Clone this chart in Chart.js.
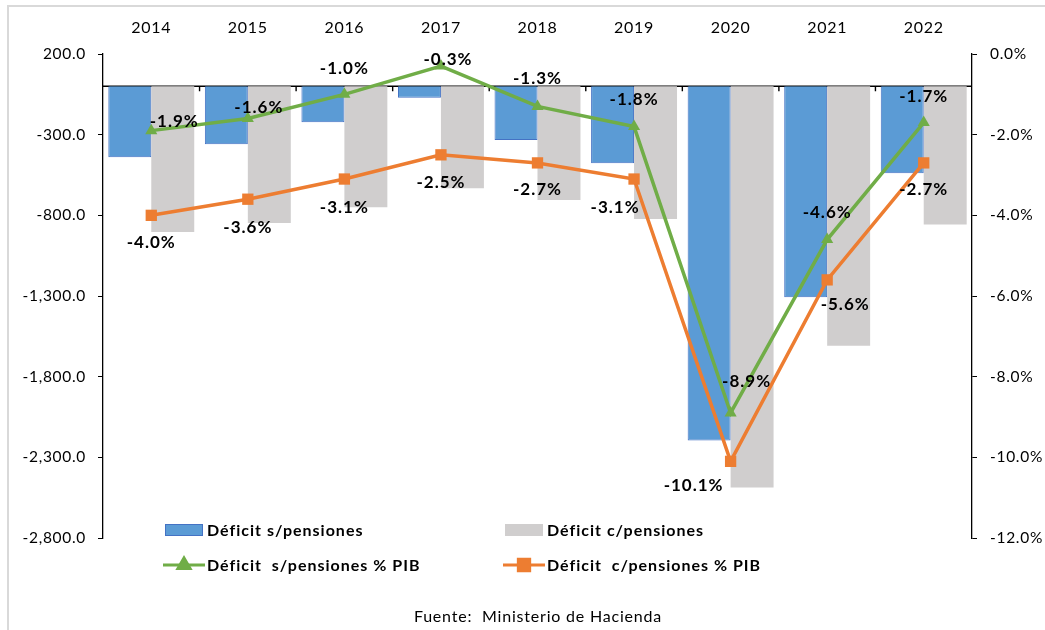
<!DOCTYPE html>
<html>
<head>
<meta charset="utf-8">
<script src="https://cdn.jsdelivr.net/npm/chart.js@4"></script>
<style>
  html, body { margin: 0; padding: 0; background: #fff; overflow: hidden; }
  #wrap { position: relative; width: 1045px; height: 630px; overflow: hidden; }
  #frame { position: absolute; left: 7px; top: 5px; width: 1100px; height: 700px; border: 2px solid #d9d9d9; box-sizing: border-box; }
  #myChart { position: absolute; left: 0; top: 0; }
</style>
</head>
<body>
<div id="wrap">
  <div id="frame"></div>
  <canvas id="myChart" width="1045" height="630"></canvas>
</div>
<script>
const years = ['2014', '2015', '2016', '2017', '2018', '2019', '2020', '2021', '2022'];
const deficitSinPensiones = [-440, -359, -223, -71, -333, -477, -2196, -1307, -539];
const deficitConPensiones = [-903, -847, -750, -632, -705, -822, -2487, -1609, -857];
const sinPensionesPib = [-1.9, -1.6, -1.0, -0.3, -1.3, -1.8, -8.9, -4.6, -1.7];
const conPensionesPib = [-4.0, -3.6, -3.1, -2.5, -2.7, -3.1, -10.1, -5.6, -2.7];

const fontFamily = 'Lato, "Open Sans", sans-serif';
Chart.defaults.font.family = fontFamily;
Chart.defaults.color = '#000';

// label offsets (px) from each point, per line series
const labelOffsets = {
    2: [[23, -9], [11, -11], [0, -26], [7, -7], [0, -28], [0, -27], [16, -31], [0, -27], [0, -26]],
    3: [[0, 27], [0, 28], [0, 28], [0, 28], [0, 27], [-19, 28], [-37, 24], [18, 25], [0, 27]]
};

const decorPlugin = {
    id: 'decor',
    beforeDraw(chart) {
        // slightly wider text like the original export
        chart.ctx.letterSpacing = '0.7px';
    },
    beforeDatasetsDraw(chart) {
        const ctx = chart.ctx;
        const x = chart.scales.x;
        const y0 = chart.scales.y.getPixelForValue(0);
        const area = chart.chartArea;
        ctx.save();
        ctx.strokeStyle = '#000';
        ctx.lineWidth = 1.4;
        ctx.beginPath();
        ctx.moveTo(area.left, y0);
        ctx.lineTo(area.right, y0);
        for (let i = 1; i < years.length; i++) {
            const bx = (x.getPixelForValue(i - 1) + x.getPixelForValue(i)) / 2;
            ctx.moveTo(bx, y0);
            ctx.lineTo(bx, y0 + 5);
        }
        ctx.stroke();
        ctx.restore();
    },
    afterDraw(chart) {
        const ctx = chart.ctx;
        ctx.save();
        ctx.fillStyle = '#000';
        ctx.textAlign = 'center';
        ctx.textBaseline = 'middle';
        ctx.font = 'bold 17px ' + fontFamily;
        ctx.letterSpacing = '1px';
        Object.keys(labelOffsets).forEach(di => {
            const meta = chart.getDatasetMeta(+di);
            const vals = chart.data.datasets[di].data;
            meta.data.forEach((pt, i) => {
                const off = labelOffsets[di][i];
                ctx.fillText(vals[i].toFixed(1) + '%', pt.x + off[0], pt.y + off[1]);
            });
        });

        // legend
        const ds = chart.data.datasets;
        ctx.textAlign = 'left';
        ctx.font = 'bold 16px ' + fontFamily;
        const cols = [165, 505];
        const rows = [530, 565];
        // bars
        [0, 1].forEach((di, c) => {
            ctx.fillStyle = ds[di].backgroundColor;
            ctx.fillRect(cols[c], rows[0] - 6, 38, 12);
            if (ds[di].borderWidth) {
                ctx.strokeStyle = ds[di].borderColor;
                ctx.lineWidth = 1;
                ctx.strokeRect(cols[c] + 0.5, rows[0] - 5.5, 37, 11);
            }
            ctx.fillStyle = '#000';
            ctx.fillText(ds[di].label, cols[c] + 42, rows[0] + 1);
        });
        // lines
        [2, 3].forEach((di, c) => {
            const cx = cols[c] + 19;
            ctx.strokeStyle = ds[di].borderColor;
            ctx.lineWidth = 3;
            ctx.beginPath();
            ctx.moveTo(cols[c] - 2, rows[1]);
            ctx.lineTo(cols[c] + 40, rows[1]);
            ctx.stroke();
            Chart.helpers.drawPoint(ctx, {
                pointStyle: ds[di].pointStyle,
                radius: ds[di].pointRadius,
                borderWidth: 1,
                rotation: 0
            }, cx, rows[1]);
            ctx.fillStyle = ds[di].borderColor;
            ctx.fill();
            ctx.fillStyle = '#000';
            ctx.fillText(ds[di].label, cols[c] + 42, rows[1] + 1);
        });

        ctx.font = '16px ' + fontFamily;
        ctx.letterSpacing = '0.8px';
        ctx.textAlign = 'center';
        ctx.fillText('Fuente:  Ministerio de Hacienda', 538, 617);
        ctx.restore();
        ctx.letterSpacing = '0px';
    }
};

const ctx = document.getElementById('myChart').getContext('2d');
const myChart = new Chart(ctx, {
    type: 'bar',
    data: {
        labels: years,
        datasets: [{
            label: 'Déficit s/pensiones',
            data: deficitSinPensiones,
            backgroundColor: '#5b9bd5',
            borderColor: '#4472c4',
            borderWidth: 1,
            yAxisID: 'y',
            order: 1
        },
        {
            label: 'Déficit c/pensiones',
            data: deficitConPensiones,
            backgroundColor: '#d0cece',
            borderWidth: 0,
            yAxisID: 'y',
            order: 1
        },
        {
            type: 'line',
            label: 'Déficit  s/pensiones % PIB',
            data: sinPensionesPib,
            borderColor: '#70ad47',
            backgroundColor: '#70ad47',
            borderWidth: 3.5,
            pointStyle: 'triangle',
            pointRadius: 7,
            pointBorderWidth: 0,
            tension: 0,
            yAxisID: 'y1',
            order: 0
        },
        {
            type: 'line',
            label: 'Déficit  c/pensiones % PIB',
            data: conPensionesPib,
            borderColor: '#ed7d31',
            backgroundColor: '#ed7d31',
            borderWidth: 3.5,
            pointStyle: 'rect',
            pointRadius: 8,
            pointBorderWidth: 0,
            tension: 0,
            yAxisID: 'y1',
            order: 0
        }]
    },
    options: {
        responsive: false,
        animation: false,
        layout: { padding: { top: 0, left: 0, right: 0, bottom: 92 } },
        plugins: {
            legend: { display: false },
            tooltip: { enabled: false }
        },
        datasets: {
            bar: { categoryPercentage: 0.89, barPercentage: 1.0 }
        },
        scales: {
            x: {
                position: 'top',
                grid: { display: false, drawTicks: false },
                border: { display: false },
                ticks: { font: { size: 16 }, color: '#000', padding: 17 },
                afterFit(scale) { scale.height = 54; }
            },
            y: {
                position: 'left',
                min: -2800,
                max: 200,
                ticks: {
                    stepSize: 500,
                    font: { size: 15.5 },
                    color: '#000',
                    padding: 12,
                    callback: v => v.toLocaleString('en-US', { minimumFractionDigits: 1, maximumFractionDigits: 1 })
                },
                grid: { drawOnChartArea: false, color: '#000', tickLength: 5 },
                border: { color: '#000', width: 1.3 },
                afterFit(scale) { scale.width = 103; }
            },
            y1: {
                position: 'right',
                min: -12,
                max: 0,
                ticks: {
                    stepSize: 2,
                    font: { size: 15.5 },
                    color: '#000',
                    padding: 13,
                    callback: v => v.toFixed(1) + '%'
                },
                grid: { drawOnChartArea: false, color: '#000', tickLength: 5 },
                border: { color: '#000', width: 1.3 },
                afterFit(scale) { scale.width = 73; }
            }
        }
    },
    plugins: [decorPlugin]
});
</script>
</body>
</html>
